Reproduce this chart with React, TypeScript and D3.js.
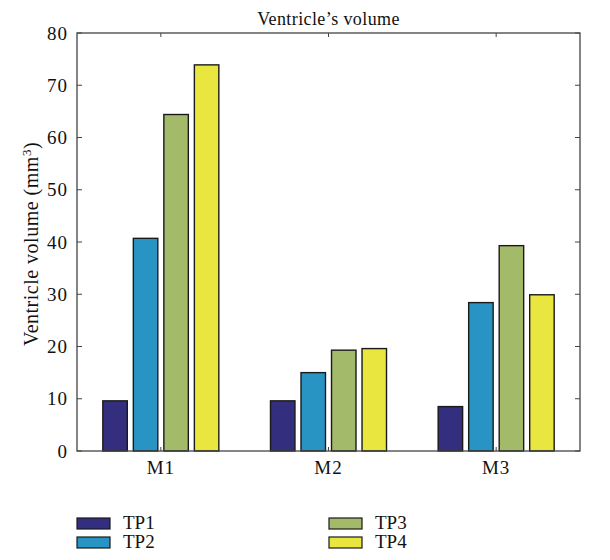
import React from "react";
import * as d3 from "d3";

const groups = ["M1", "M2", "M3"];
const seriesNames = ["TP1", "TP2", "TP3", "TP4"];
const seriesColors = ["#332e7e", "#2794c3", "#a2ba6a", "#e8e63f"];
const TP1 = [9.6, 9.6, 8.5];
const TP2 = [40.7, 15.0, 28.4];
const TP3 = [64.4, 19.3, 39.3];
const TP4 = [73.9, 19.6, 29.9];
const series = [TP1, TP2, TP3, TP4];
const yTicks = [0, 10, 20, 30, 40, 50, 60, 70, 80];

export default function App() {
  const W = 610, H = 560;
  const left = 77, right = 580, top = 33, bottom = 451;
  const x = d3.scaleLinear().domain([0.5, 3.5]).range([left, right]);
  const y = d3.scaleLinear().domain([0, 80]).range([bottom, top]);
  const spacing = 0.182;
  const bw = x(0.146) - x(0);
  const font = "'Liberation Serif', 'Times New Roman', serif";
  const axisColor = "#444";
  return (
    <svg width={W} height={H} style={{ position: "absolute", left: 0, top: 0 }} fontFamily={font}>
      <rect x={0} y={0} width={W} height={H} fill="#fff" />
      <text x={(left + right) / 2} y={25} textAnchor="middle" fontSize={18} letterSpacing={0.4} fill="#111">
        Ventricle’s volume
      </text>
      {series.map((vals, si) =>
        vals.map((v, gi) => {
          const cx = x(gi + 1 + (si - 1.5) * spacing);
          return (
            <rect
              key={`${si}-${gi}`}
              x={cx - bw / 2}
              y={y(v)}
              width={bw}
              height={y(0) - y(v)}
              fill={seriesColors[si]}
              stroke="#1a1a1a"
              strokeWidth={1.4}
            />
          );
        })
      )}
      <rect x={left} y={top} width={right - left} height={bottom - top} fill="none" stroke={axisColor} strokeWidth={1.3} />
      {yTicks.map((t) => (
        <g key={t}>
          <line x1={left} x2={left + 5} y1={y(t)} y2={y(t)} stroke={axisColor} strokeWidth={1} />
          <line x1={right} x2={right - 5} y1={y(t)} y2={y(t)} stroke={axisColor} strokeWidth={1} />
          <text x={left - 9} y={y(t)} dy="0.35em" textAnchor="end" fontSize={19} letterSpacing={1} fill="#111">
            {t}
          </text>
        </g>
      ))}
      {groups.map((g, i) => (
        <g key={g}>
          <line x1={x(i + 1)} x2={x(i + 1)} y1={bottom} y2={bottom - 4} stroke={axisColor} strokeWidth={1} />
          <line x1={x(i + 1)} x2={x(i + 1)} y1={top} y2={top + 4} stroke={axisColor} strokeWidth={1} />
          <text x={x(i + 1)} y={bottom + 23} textAnchor="middle" fontSize={19} letterSpacing={1} fill="#111">
            {g}
          </text>
        </g>
      ))}
      <text
        transform={`translate(38, ${(top + bottom) / 2 + 2}) rotate(-90)`}
        textAnchor="middle"
        fontSize={20}
        letterSpacing={0.5}
        fill="#111"
      >
        Ventricle volume (mm<tspan dy={-7} fontSize={13}>3</tspan><tspan dy={7}>)</tspan>
      </text>
      {seriesNames.map((n, i) => {
        const col = Math.floor(i / 2);
        const row = i % 2;
        const lx = 77 + col * 252;
        const ly = 518 + row * 19;
        return (
          <g key={n}>
            <rect x={lx} y={ly} width={33} height={11} fill={seriesColors[i]} stroke="#1a1a1a" strokeWidth={1.2} />
            <text x={lx + 46} y={ly + 11} fontSize={19} fill="#111">
              {n}
            </text>
          </g>
        );
      })}
    </svg>
  );
}
